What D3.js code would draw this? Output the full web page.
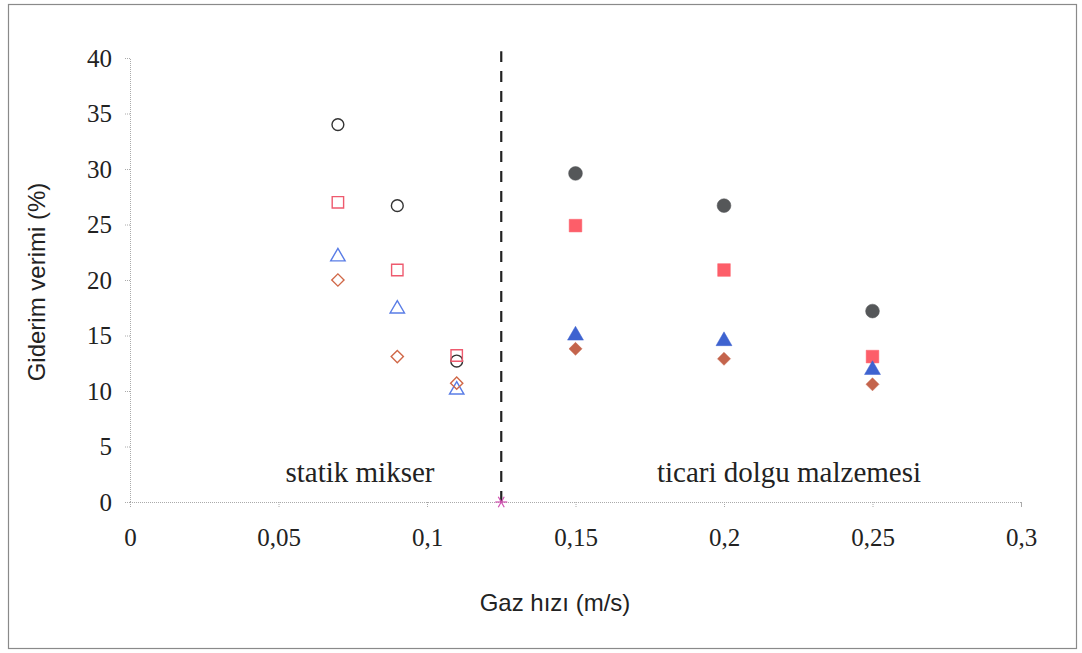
<!DOCTYPE html>
<html>
<head>
<meta charset="utf-8">
<script src="https://cdn.jsdelivr.net/npm/d3@7/dist/d3.min.js"></script>
<style>
  html, body { margin: 0; padding: 0; background: #fff; }
  svg { display: block; }
</style>
</head>
<body>
<svg id="chart" width="1082" height="653"></svg>
<script>
// Gas velocity (m/s) for each packing type
const staticMixerX = [0.07, 0.09, 0.11];
const packingX = [0.15, 0.2, 0.25];

// Removal efficiency (%) — static mixer (open markers)
const smCircle = [34.0, 26.7, 12.7];
const smSquare = [27.0, 20.9, 13.2];
const smTriangle = [22.1, 17.4, 10.1];
const smDiamond = [20.0, 13.1, 10.7];

// Removal efficiency (%) — commercial packing (filled markers)
const pkCircle = [29.6, 26.7, 17.2];
const pkSquare = [24.9, 20.9, 13.1];
const pkTriangle = [15.0, 14.5, 11.9];
const pkDiamond = [13.8, 12.9, 10.6];

// Boundary between the two regions
const boundaryX = 0.125;
const boundaryY = [0, 40.6];

const xTicks = [0, 0.05, 0.1, 0.15, 0.2, 0.25, 0.3];
const yTicks = [0, 5, 10, 15, 20, 25, 30, 35, 40];

const svg = d3.select("#chart");

// outer frame
svg.append("rect")
  .attr("x", 8.5).attr("y", 4.5)
  .attr("width", 1068).attr("height", 644)
  .attr("fill", "none").attr("stroke", "#8a8a8a").attr("stroke-width", 1.2);

const x = d3.scaleLinear().domain([0, 0.3]).range([130, 1021]);
const y = d3.scaleLinear().domain([0, 40]).range([502, 58]);

const fmt = d => String(d).replace(".", ",");
const serif = "'Liberation Serif', 'Times New Roman', serif";
const sans = "'Liberation Sans', Arial, sans-serif";

// x axis
const gx = svg.append("g").attr("transform", `translate(0,${y(0)})`)
  .call(d3.axisBottom(x).tickValues(xTicks).tickFormat(fmt).tickSize(5).tickPadding(21));
// y axis
const gy = svg.append("g").attr("transform", `translate(${x(0)},0)`)
  .call(d3.axisLeft(y).tickValues(yTicks).tickFormat(fmt).tickSize(5).tickPadding(13));

[gx, gy].forEach(g => {
  g.select(".domain").attr("stroke", "#aaa").attr("stroke-width", 1).attr("stroke-dasharray", "1,1");
  g.selectAll(".tick line").attr("stroke", "#aaa").attr("stroke-dasharray", "1,1");
  g.selectAll(".tick text")
    .attr("fill", "#222")
    .style("font-family", serif)
    .style("font-size", "25px");
});

// axis titles
svg.append("text")
  .attr("x", 555).attr("y", 611)
  .attr("text-anchor", "middle")
  .style("font-family", sans).style("font-size", "24px").attr("fill", "#222")
  .text("Gaz hızı (m/s)");

svg.append("text")
  .attr("transform", "translate(45,282) rotate(-90)")
  .attr("text-anchor", "middle")
  .style("font-family", sans).style("font-size", "24px").attr("fill", "#222")
  .text("Giderim verimi (%)");

// region boundary
svg.append("line")
  .attr("x1", x(boundaryX)).attr("x2", x(boundaryX))
  .attr("y1", y(boundaryY[0])).attr("y2", y(boundaryY[1]))
  .attr("stroke", "#222").attr("stroke-width", 2.2)
  .attr("stroke-dasharray", "11,9");

// region labels
svg.append("text")
  .attr("x", 360).attr("y", 482).attr("text-anchor", "middle")
  .style("font-family", serif).style("font-size", "29px").attr("fill", "#222")
  .text("statik mikser");
svg.append("text")
  .attr("x", 789).attr("y", 482).attr("text-anchor", "middle")
  .style("font-family", serif).style("font-size", "29px").attr("fill", "#222")
  .text("ticari dolgu malzemesi");

// markers (diamonds are squares turned by 45 degrees)
const shapes = {
  circle: d3.symbolCircle,
  square: d3.symbolSquare,
  triangle: d3.symbolTriangle,
  diamond: d3.symbolSquare
};

const series = [
  { xs: staticMixerX, ys: smCircle, shape: "circle", size: 110, color: "#333", fill: false },
  { xs: staticMixerX, ys: smSquare, shape: "square", size: 130, color: "#ee5a6e", fill: false },
  { xs: staticMixerX, ys: smTriangle, shape: "triangle", size: 90, color: "#5a7de6", fill: false },
  { xs: staticMixerX, ys: smDiamond, shape: "diamond", size: 75, color: "#d06848", fill: false },
  { xs: packingX, ys: pkCircle, shape: "circle", size: 150, color: "#555759", fill: true },
  { xs: packingX, ys: pkSquare, shape: "square", size: 160, color: "#fd5e69", fill: true },
  { xs: packingX, ys: pkTriangle, shape: "triangle", size: 110, color: "#3e63d0", fill: true },
  { xs: packingX, ys: pkDiamond, shape: "diamond", size: 85, color: "#c4644c", fill: true }
];

series.forEach(s => {
  const sym = d3.symbol().type(shapes[s.shape]).size(s.size);
  const rot = s.shape === "diamond" ? 45 : 0;
  svg.append("g").selectAll("path")
    .data(s.xs.map((v, i) => [v, s.ys[i]]))
    .join("path")
    .attr("transform", d => `translate(${x(d[0])},${y(d[1])}) rotate(${rot})`)
    .attr("d", sym)
    .attr("fill", s.fill ? s.color : "none")
    .attr("stroke", s.color)
    .attr("stroke-width", s.fill ? 0.5 : 1.4);
});

// asterisk marker at the boundary on the x axis
svg.append("g")
  .attr("transform", `translate(${x(boundaryX)},${y(0)})`)
  .selectAll("line")
  .data([0, 60, 120])
  .join("line")
  .attr("x1", 0).attr("y1", -6).attr("x2", 0).attr("y2", 6)
  .attr("transform", a => `rotate(${a + 30})`)
  .attr("stroke", "#d04fb0").attr("stroke-width", 1.2);
</script>
</body>
</html>
